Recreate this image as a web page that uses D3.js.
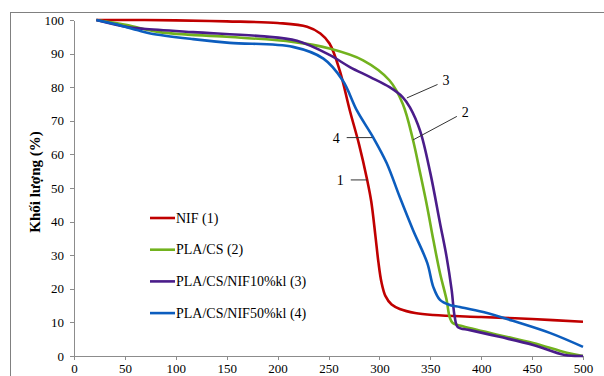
<!doctype html>
<html lang="vi">
<head>
<meta charset="utf-8">
<script src="https://d3js.org/d3.v7.min.js"></script>
<style>
    body { margin: 0; padding: 0; background: #fff; }
    svg text { font-family: "Liberation Serif", "Times New Roman", serif; fill: #000; }
    .axis path, .axis line { stroke: #8c8c8c; shape-rendering: crispEdges; }
    .axis text { font-size: 13px; }
    .frame { stroke: #808080; stroke-width: 1; fill: none; shape-rendering: crispEdges; }
    .curve { fill: none; stroke-width: 2.6; }
    .leader { stroke: #333; stroke-width: 1; }
</style>
</head>
<body>
<div id="chart"></div>
<script>
// nhiet do (C) va khoi luong (%) doc tu hinh
var nifT = [22, 60, 100, 150, 200, 229, 242, 251, 261, 271, 280, 288, 292, 296, 299, 302, 306, 312, 320, 335, 353, 400, 450, 500];
var nifW = [100, 100, 99.9, 99.6, 99.1, 98, 96, 93, 85, 73, 63, 52.4, 46, 36, 28, 22, 17.8, 15.3, 14, 12.8, 12.2, 11.6, 11, 10.2];

var plaT = [22, 52, 84, 150, 215, 251, 284, 310, 323, 333, 340, 347, 353, 359.5, 366, 369, 372, 380, 418, 451, 484, 500];
var plaW = [100, 98.5, 96.4, 95, 93.5, 91.5, 88, 82, 75, 64.3, 54.5, 44.3, 34.5, 24.7, 16.7, 11.6, 9.8, 9, 6.2, 3.9, 1, 0];

var nif10T = [22, 52, 68, 117, 183, 219, 251, 271, 291, 310, 323, 330, 340, 350, 359.5, 366, 371, 374, 377, 389, 418, 451, 482, 500];
var nif10W = [100, 97.9, 97.4, 96.4, 95.2, 93.8, 89.6, 86, 83, 80, 77, 74, 67, 54.5, 39.6, 29.5, 19.6, 11.6, 8.6, 7.7, 5.7, 3.3, 0.3, 0];

var nif50T = [22, 40, 62, 75, 117, 153, 215, 245, 264, 278, 294, 307, 320, 333, 347, 353, 359.5, 369, 379, 402, 435, 468, 500];
var nif50W = [100, 98.8, 97, 96, 94.3, 93.2, 92, 88.5, 82, 73, 65, 57.5, 47.3, 37.5, 27.7, 20.5, 16.7, 15.2, 14.6, 13.1, 10.1, 6.8, 2.7];

var names = ["NIF (1)", "PLA/CS (2)", "PLA/CS/NIF10%kl (3)", "PLA/CS/NIF50%kl (4)"];
var colors = ["#c00000", "#72b21e", "#4a1c8a", "#0c5dbe"];

var xTicks = [0, 50, 100, 150, 200, 250, 300, 350, 400, 450, 500];
var yTicks = [0, 10, 20, 30, 40, 50, 60, 70, 80, 90, 100];

// nhan chu so 1-4: diem tren duong va vi tri chu
var tagText = ["1", "2", "3", "4"];
var tagPoint = [[288, 52.4], [333, 64.3], [327, 76.8], [293, 65]];
var tagLabel = [[265, 52.4], [381, 72.5], [362, 82], [261, 65]];

var width = 604, height = 376;

var x = d3.scaleLinear().domain([0, 500]).range([74, 583]);
var y = d3.scaleLinear().domain([0, 100]).range([356, 20]);

var svg = d3.select("#chart").append("svg")
    .attr("width", width)
    .attr("height", height);

// khung ngoai
svg.append("path")
    .attr("class", "frame")
    .attr("d", "M10.5," + height + "V12.5H" + width);

svg.append("g")
    .attr("class", "axis")
    .attr("transform", "translate(0,356)")
    .call(d3.axisBottom(x).tickValues(xTicks).tickSize(4).tickSizeOuter(0).tickPadding(4));

svg.append("g")
    .attr("class", "axis")
    .attr("transform", "translate(74,0)")
    .call(d3.axisLeft(y).tickValues(yTicks).tickSize(4).tickSizeOuter(0).tickPadding(6));

svg.append("text")
    .attr("transform", "translate(40,182) rotate(-90)")
    .attr("text-anchor", "middle")
    .style("font-size", "15px")
    .style("font-weight", "bold")
    .text("Khối lượng (%)");

var series = [[nifT, nifW], [plaT, plaW], [nif10T, nif10W], [nif50T, nif50W]];

var line = d3.line()
    .x(function (d) { return x(d[0]); })
    .y(function (d) { return y(d[1]); })
    .curve(d3.curveCatmullRom.alpha(0.5));

// ve theo thu tu: do, xanh la, tim, xanh duong
series.forEach(function (s, i) {
    var pts = s[0].map(function (t, j) { return [t, s[1][j]]; });
    svg.append("path")
        .datum(pts)
        .attr("class", "curve")
        .attr("stroke", colors[i])
        .attr("d", line);
});

// chu thich
var legend = svg.append("g");
names.forEach(function (n, i) {
    var ly = 218 + i * 31.7;
    legend.append("line")
        .attr("x1", 150).attr("x2", 175)
        .attr("y1", ly).attr("y2", ly)
        .attr("stroke", colors[i])
        .attr("stroke-width", 2.6);
    legend.append("text")
        .attr("x", 176)
        .attr("y", ly + 4.5)
        .style("font-size", "14px")
        .text(n);
});

// duong chi va so
tagText.forEach(function (t, i) {
    var p = tagPoint[i], l = tagLabel[i];
    var horiz = (t == "1" || t == "4");
    var lx = x(l[0]), ly = y(l[1]);
    svg.append("line")
        .attr("class", "leader")
        .attr("x1", horiz ? lx + 7 : lx - 5)
        .attr("y1", horiz ? ly : ly + 4)
        .attr("x2", x(p[0]))
        .attr("y2", y(p[1]));
    svg.append("text")
        .attr("x", lx)
        .attr("y", ly + 5)
        .attr("text-anchor", horiz ? "end" : "start")
        .style("font-size", "14px")
        .text(t);
});
</script>
</body>
</html>
